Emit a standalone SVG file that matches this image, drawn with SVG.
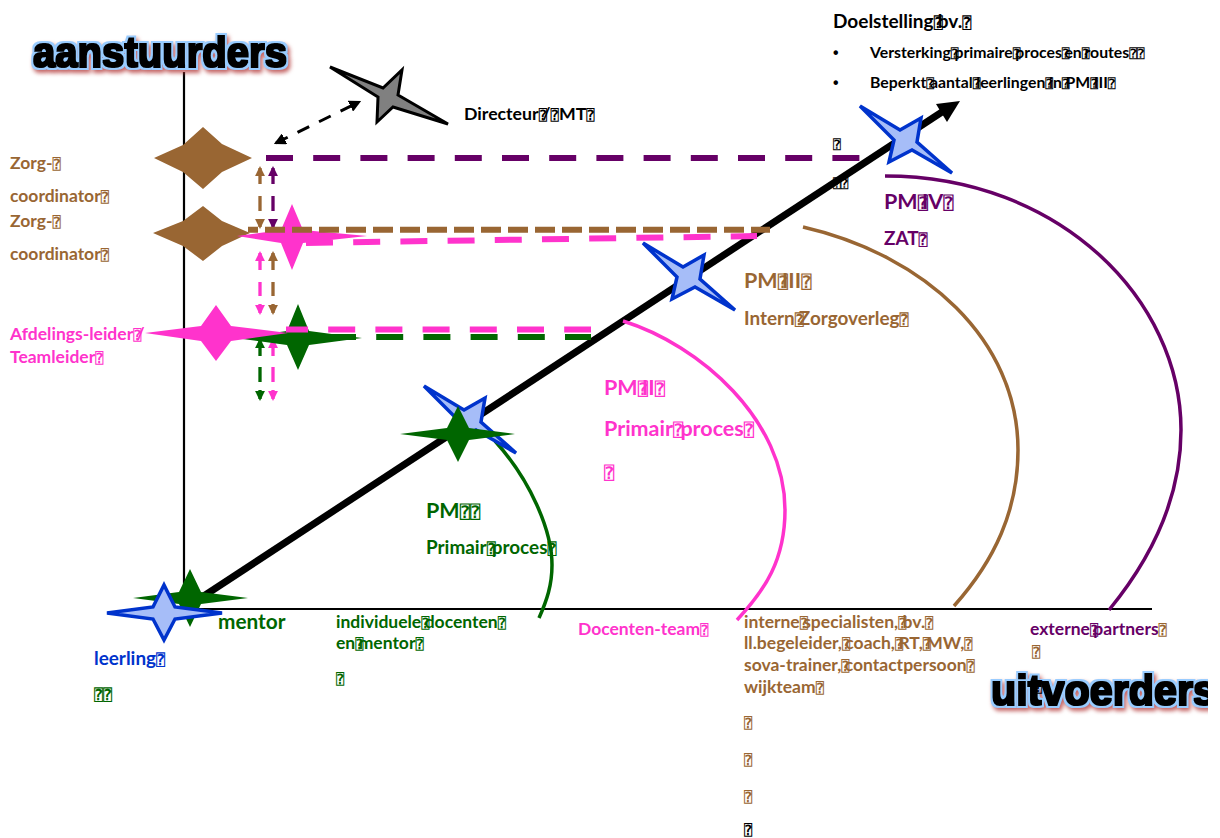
<svg xmlns="http://www.w3.org/2000/svg" width="1220" height="838" viewBox="0 0 1220 838">
<style>
text{font-family:"Lato","Noto Sans",sans-serif;font-weight:700;font-size:17.500px;transform:translateY(1px)}
.q{font-family:"DejaVu Sans Mono",monospace;font-weight:700;font-size:.8em}
.big{font-size:21.500px}.mid{font-size:18.900px}.sm{font-size:15.800px}
.br{fill:#996633}.pu{fill:#660066}.pi{fill:#ff33cc}.gr{fill:#006600}.bl{fill:#0033cc}.bk{fill:#000}
.blue{fill:#a6bdf8;stroke:#0033cc;stroke-width:3.500}
.head{font-family:"Liberation Sans",sans-serif;font-weight:700;font-size:42px;fill:#000;filter:url(#sh);transform:none}
.d{fill:none;stroke-width:6}.v{fill:none;stroke-width:3.300}.arc{fill:none;stroke-width:3.500}
</style>
<defs>
<filter id="sh" x="-10%" y="-30%" width="120%" height="170%" color-interpolation-filters="sRGB">
<feMorphology in="SourceAlpha" operator="dilate" radius="3" result="o"/>
<feOffset in="o" dx="2" dy="3" result="s"/><feGaussianBlur in="s" stdDeviation="2" result="b"/>
<feFlood flood-color="#b03030" flood-opacity=".75"/><feComposite in2="b" operator="in" result="red"/>
<feFlood flood-color="#99ccff"/><feComposite in2="o" operator="in" result="blue"/>
<feMorphology in="SourceGraphic" operator="dilate" radius=".6" result="thick"/>
<feMerge><feMergeNode in="red"/><feMergeNode in="blue"/><feMergeNode in="thick"/></feMerge>
</filter>
<clipPath id="cp"><rect width="1208" height="838"/></clipPath>
<polygon id="sb" points="860,106 900,130 921,118 917,142 952,173 912,150 889,162 894,140"/>
<marker id="hbr" markerWidth="3" markerHeight="3" refX="3.200" refY="2" orient="auto-start-reverse" viewBox="0 0 4 4"><path d="M0 0L4 2L0 4Z" class="br"/></marker>
<marker id="hpu" markerWidth="3" markerHeight="3" refX="3.200" refY="2" orient="auto-start-reverse" viewBox="0 0 4 4"><path d="M0 0L4 2L0 4Z" class="pu"/></marker>
<marker id="hpi" markerWidth="3" markerHeight="3" refX="3.200" refY="2" orient="auto-start-reverse" viewBox="0 0 4 4"><path d="M0 0L4 2L0 4Z" class="pi"/></marker>
<marker id="hgr" markerWidth="3" markerHeight="3" refX="3.200" refY="2" orient="auto-start-reverse" viewBox="0 0 4 4"><path d="M0 0L4 2L0 4Z" class="gr"/></marker>
<marker id="hbk" markerWidth="4" markerHeight="4" refX="3.200" refY="2" orient="auto-start-reverse" viewBox="0 0 4 4"><path d="M0 0L4 2L0 4Z" class="bk"/></marker>
</defs>

<g id="axes" stroke="#000" stroke-width="2.200"><path d="M184 72V609H1152" fill="none"/></g>
<g id="main-arrow"><path d="M190 605L945 110" stroke="#000" stroke-width="7"/><path d="M960 101L936 104L947 122Z"/></g>

<g id="connectors">
<path class="arc" stroke="#006600" d="M495 441C530 480 552 530 552 565C552 585 547 600 539 618"/>
<path class="arc" stroke="#ff33cc" d="M623 321C700 345 785 420 785 510C785 560 765 590 737 620"/>
<path class="arc" stroke="#996633" d="M803 227C925 255 1018 340 1018 450C1018 510 995 560 954 606"/>
<path class="arc" stroke="#660066" d="M885 176C1060 176 1181 300 1181 430C1181 500 1150 560 1109 610"/>
<path class="d" stroke="#660066" stroke-dasharray="27 20.200" d="M266 158H860"/>
<path class="d" stroke="#ff33cc" stroke-dasharray="27 20.200" d="M306 243L757 236"/>
<path class="d" stroke="#006600" stroke-dasharray="27 20.200" d="M329 337H591"/>
<path class="v" stroke="#996633" stroke-dasharray="16 12 15 8 20" marker-start="url(#hbr)" marker-end="url(#hbr)" d="M260 168V227"/>
<path class="v" stroke="#660066" stroke-dasharray="16 12 15 8 20" marker-start="url(#hpu)" marker-end="url(#hpu)" d="M273 168V227"/>
<path class="v" stroke="#ff33cc" stroke-dasharray="17 12 14 8 20" marker-start="url(#hpi)" marker-end="url(#hpi)" d="M260 253V313"/>
<path class="v" stroke="#996633" stroke-dasharray="17 12 14 8 20" marker-start="url(#hbr)" marker-end="url(#hbr)" d="M273 253V313"/>
<path class="v" stroke="#006600" stroke-dasharray="16 11 15 8 20" marker-start="url(#hgr)" marker-end="url(#hgr)" d="M260 340V399"/>
<path class="v" stroke="#ff33cc" stroke-dasharray="16 11 15 8 20" marker-start="url(#hpi)" marker-end="url(#hpi)" d="M273 340V399"/>
<path fill="none" stroke="#000" stroke-width="3" stroke-dasharray="13 11" marker-start="url(#hbk)" marker-end="url(#hbk)" d="M276 143L359 102"/>
</g>

<g id="star-zorg1"><path class="br" d="M154 158L183 145L203 127L222 144L252 158L222 172L203 189L183 172Z"/><text class="br" x="10" y="168">Zorg-<tspan class="q">⍰</tspan></text><text class="br" x="10" y="201">coordinator<tspan class="q">⍰</tspan></text></g>
<g id="star-zorg2"><path class="br" d="M153 233L183 221L203 206L222 221L250 233L222 246L203 261L183 246Z"/><text class="br" x="10" y="226">Zorg-<tspan class="q">⍰</tspan></text><text class="br" x="10" y="259">coordinator<tspan class="q">⍰</tspan></text></g>
<g id="star-pink1"><path class="pi" d="M237 236L281 230L292 204L303 230L367 236L303 243L292 270L281 243Z"/></g>
<g id="star-green1"><path class="gr" d="M235 338L287 331L298 304L309 331L362 338L309 345L298 370L287 345Z"/></g>
<g id="star-pink2"><path class="pi" d="M145 333L201 326L216 305L231 326L288 333L231 341L216 361L201 341Z"/><text class="pi" x="10" y="339">Afdelings-leider<tspan class="q">⍰</tspan><tspan dx="-5">/</tspan></text><text class="pi" x="10" y="362">Teamleider<tspan class="q">⍰</tspan></text></g>
<path class="d" stroke="#996633" stroke-dasharray="20 7" stroke-dashoffset="10" d="M248 229.700H770" id="dash-brown"/>
<path class="d" stroke="#ff33cc" stroke-dasharray="27 20.200" stroke-dashoffset="5" d="M286 329.500H591" id="dash-pink"/>

<g id="star-director"><polygon points="330,67 383,88 402,70 398,95 448,124 393,107 377,122 378,97" fill="#808080" stroke="#000" stroke-width="3"/><text class="bk" x="464" y="119" style="font-size:17.700px">Directeur<tspan class="q">⍰</tspan><tspan dx="-5">/</tspan><tspan class="q">⍰</tspan><tspan>MT</tspan><tspan class="q">⍰</tspan></text></g>

<g id="goal" class="bk">
<text x="833" y="27" style="font-size:19px">Doelstelling<tspan class="q">⍰</tspan><tspan dx="-5">bv.</tspan><tspan class="q">⍰</tspan></text>
<text class="sm" x="833" y="57" style="font-family:'Liberation Sans',sans-serif">•</text><text class="sm" x="870" y="57">Versterking<tspan class="q">⍰</tspan><tspan dx="-4">primaire</tspan><tspan class="q">⍰</tspan><tspan dx="-5">proces</tspan><tspan class="q">⍰</tspan><tspan dx="-5">en</tspan><tspan class="q">⍰</tspan><tspan dx="-5">routes</tspan><tspan class="q">⍰⍰</tspan></text>
<text class="sm" x="833" y="87" style="font-family:'Liberation Sans',sans-serif">•</text><text class="sm" x="870" y="87">Beperkt<tspan class="q">⍰</tspan><tspan dx="-4">aantal</tspan><tspan class="q">⍰</tspan><tspan dx="-4">leerlingen</tspan><tspan class="q">⍰</tspan><tspan dx="-4">in</tspan><tspan class="q">⍰</tspan><tspan dx="-4">PM</tspan><tspan class="q">⍰</tspan><tspan dx="-4">III</tspan><tspan class="q">⍰</tspan></text>
<text class="sm" x="833" y="148"><tspan class="q">⍰</tspan></text><text class="sm" x="833" y="187"><tspan class="q">⍰⍰</tspan></text>
</g>

<g id="pm4"><use href="#sb" class="blue"/><text class="big pu" x="884" y="208">PM<tspan class="q">⍰</tspan><tspan dx="-6">IV</tspan><tspan class="q">⍰</tspan></text><text class="pu mid" x="884" y="244">ZAT<tspan class="q">⍰</tspan></text></g>
<g id="pm3"><use href="#sb" class="blue" x="-217" y="137"/><text class="big br" x="744" y="287">PM<tspan class="q">⍰</tspan><tspan dx="-6">III</tspan><tspan class="q">⍰</tspan></text><text class="br mid" x="744" y="324">Intern<tspan class="q">⍰</tspan><tspan dx="-5">Zorgoverleg</tspan><tspan class="q">⍰</tspan></text></g>
<g id="pm2"><text class="big pi" x="604" y="394">PM<tspan class="q">⍰</tspan><tspan dx="-6">II</tspan><tspan class="q">⍰</tspan></text><text class="big pi" x="604" y="435">Primair<tspan class="q">⍰</tspan><tspan dx="-3">proces</tspan><tspan class="q">⍰</tspan></text><text class="big pi" x="604" y="478"><tspan class="q">⍰</tspan></text><text class="pi" x="578" y="634">Docenten-team<tspan class="q">⍰</tspan></text></g>
<g id="pm1"><use href="#sb" class="blue" x="-436" y="280"/><path class="gr" d="M400 434L447 428L458 406L469 428L515 434L469 440L458 462L447 440Z"/><text class="big gr" x="426" y="517">PM<tspan class="q">⍰⍰</tspan></text><text class="gr mid" x="426" y="553">Primair<tspan class="q">⍰</tspan><tspan dx="-4">proces</tspan><tspan class="q">⍰</tspan></text></g>

<g id="mentor"><path class="gr" d="M133 598L179 592L190 569L201 592L248 598L201 604L190 627L179 604Z"/><text class="gr" x="218" y="628" style="font-size:20.800px">mentor</text></g>
<g id="leerling"><path class="blue" d="M107 613L153 607L164 585L175 607L222 613L175 619L164 640L153 619Z"/><text class="bl mid" x="94" y="664">leerling<tspan class="q">⍰</tspan></text><text class="gr mid" x="94" y="699"><tspan class="q">⍰⍰</tspan></text></g>

<g id="docenten" class="gr"><text x="336" y="627">individuele<tspan class="q">⍰</tspan><tspan dx="-5">docenten</tspan><tspan class="q">⍰</tspan></text><text x="336" y="648">en<tspan class="q">⍰</tspan><tspan dx="-5">mentor</tspan><tspan class="q">⍰</tspan></text><text x="336" y="683"><tspan class="q">⍰</tspan></text></g>

<g id="specialisten" class="br"><text x="744" y="627">interne<tspan class="q">⍰</tspan><tspan dx="-5">specialisten,</tspan><tspan class="q">⍰</tspan><tspan dx="-4">bv.</tspan><tspan class="q">⍰</tspan></text><text x="744" y="648">ll.begeleider,<tspan class="q">⍰</tspan><tspan dx="-5">coach,</tspan><tspan class="q">⍰</tspan><tspan dx="-5">RT,</tspan><tspan class="q">⍰</tspan><tspan dx="-5">MW,</tspan><tspan class="q">⍰</tspan></text><text x="744" y="670">sova-trainer,<tspan class="q">⍰</tspan><tspan dx="-5">contactpersoon</tspan><tspan class="q">⍰</tspan></text><text x="744" y="692">wijkteam<tspan class="q">⍰</tspan></text><text x="744" y="727"><tspan class="q">⍰</tspan></text><text x="744" y="764"><tspan class="q">⍰</tspan></text><text x="744" y="801"><tspan class="q">⍰</tspan></text><text class="bk" x="744" y="834"><tspan class="q">⍰</tspan></text></g>

<g id="externe"><text class="pu" x="1030" y="634">externe<tspan class="q">⍰</tspan><tspan dx="-5">partners</tspan><tspan class="q br">⍰</tspan></text><text class="br" x="1032" y="656"><tspan class="q">⍰</tspan></text></g>

<g id="headings" clip-path="url(#cp)">
<text class="head" x="33" y="67" textLength="254" lengthAdjust="spacingAndGlyphs">aanstuurders</text>
<text class="head" x="991" y="705" textLength="225" lengthAdjust="spacingAndGlyphs">uitvoerders</text>
<text class="bk" x="1034" y="691"><tspan class="q">⍰</tspan></text>
</g>
</svg>
